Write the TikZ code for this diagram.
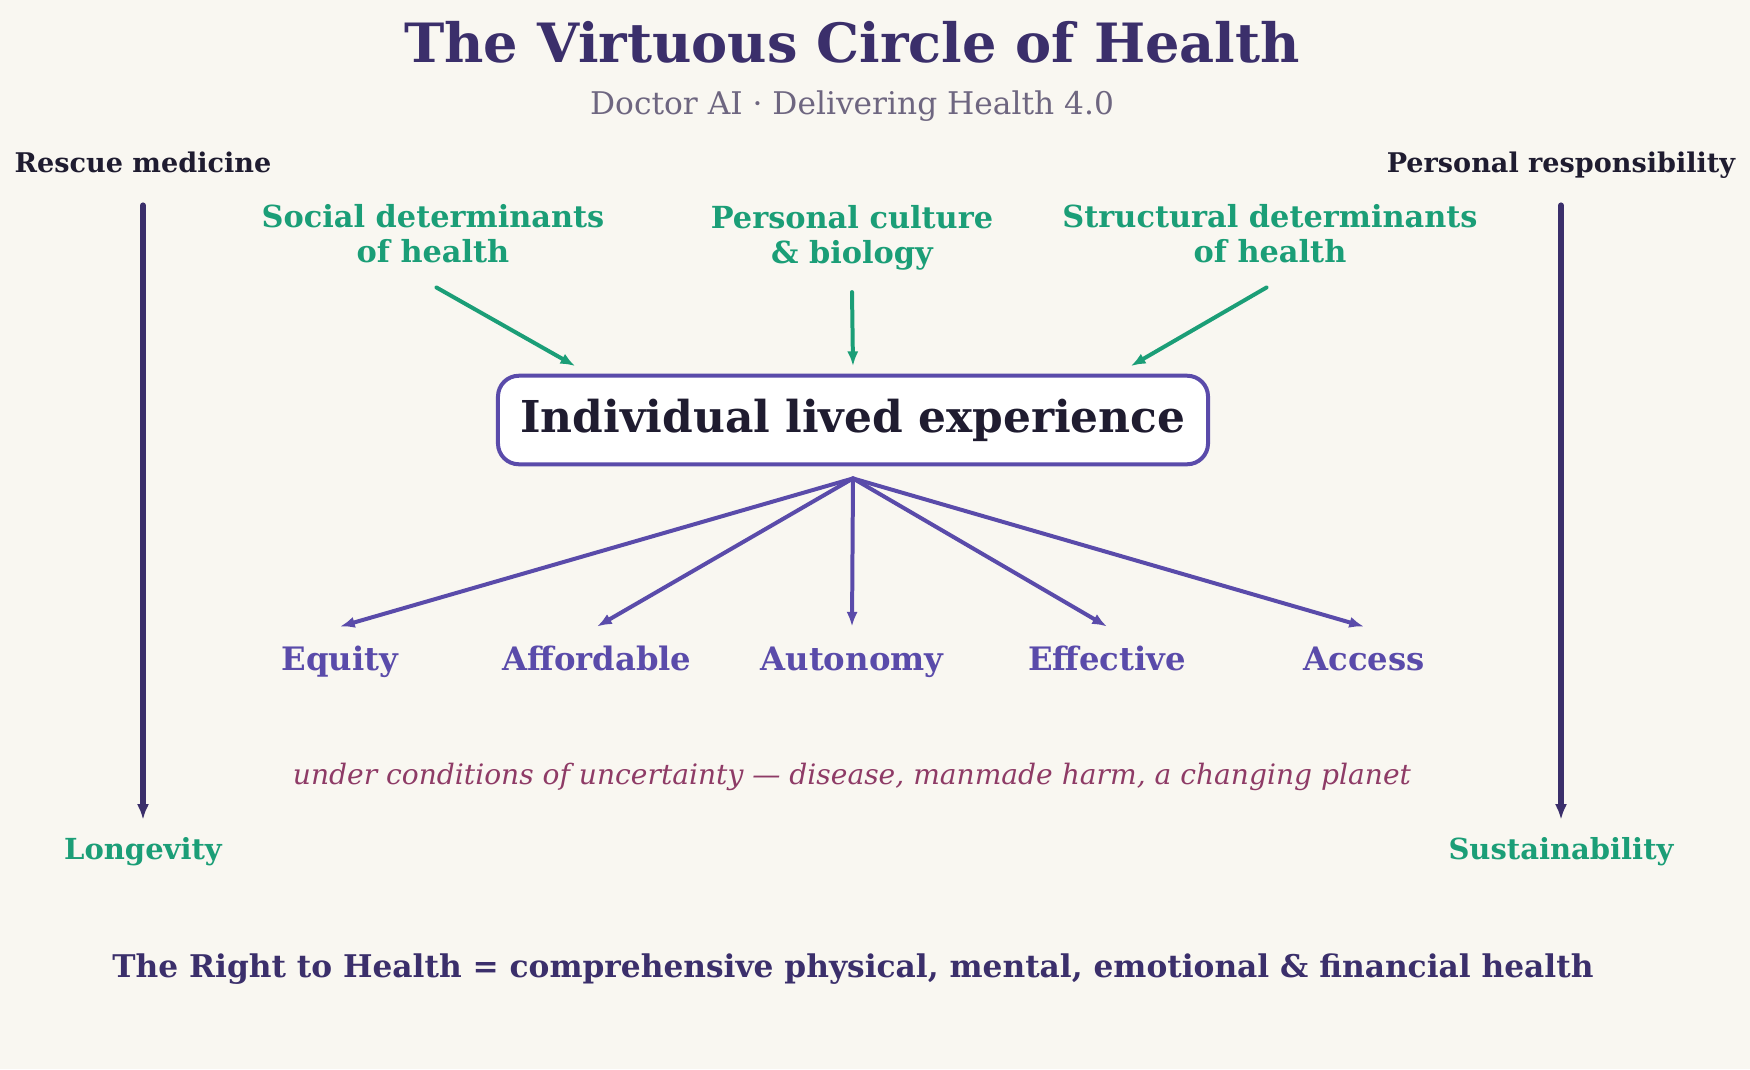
\documentclass[tikz,border=0pt]{standalone}
\usepackage{fontspec}
\setmainfont{DejaVu Serif}
\usetikzlibrary{arrows.meta}
\definecolor{bgcol}{HTML}{F9F7F1}
\definecolor{titlecol}{HTML}{3B2F6B}
\definecolor{subcol}{HTML}{6E6680}
\definecolor{inkcol}{HTML}{1F1C30}
\definecolor{greencol}{HTML}{1B9E77}
\definecolor{purplecol}{HTML}{5A4BAA}
\definecolor{maroon}{HTML}{8E3B66}
\begin{document}
\begin{tikzpicture}[
        x=0.576pt,y=-0.576pt,
        >={Latex[length=8.5pt,width=6.5pt]},line cap=round,line join=round,
        factor/.style={text=greencol,font=\bfseries\fontsize{17.5}{20}\selectfont,align=center},
        value/.style={text=purplecol,font=\bfseries\fontsize{18.6}{22}\selectfont,
            text height=0.8em,text depth=0.25em,anchor=base},
        side/.style={text=inkcol,font=\bfseries\fontsize{15.6}{18}\selectfont,
            text height=0.75em,text depth=0.25em},
        goal/.style={text=greencol,font=\bfseries\fontsize{16.7}{20}\selectfont,
            text height=0.75em,text depth=0.25em},
        feed/.style={draw=greencol,line width=2.3pt,->},
        branch/.style={draw=purplecol,line width=2.3pt,->},
        rail/.style={draw=titlecol,line width=3.4pt,->,>={Latex[length=9pt,width=7pt]},
            shorten <=13pt,shorten >=11.8pt}
    ]
    \fill[bgcol] (0,0) rectangle (1750,1069);
    \useasboundingbox (0,0) rectangle (1750,1069);
    \node[text=titlecol,font=\bfseries\fontsize{31.2}{36}\selectfont] (title) at (852,42) {The Virtuous Circle of Health};
    \node[text=subcol,font=\fontsize{18}{21}\selectfont] (subtitle) at (852,106) {Doctor AI · Delivering Health 4.0};
    \node[side] (rescue) at (143,168) {Rescue medicine};
    \node[side] (responsibility) at (1561,168) {Personal responsibility};
    \node[goal] (longevity) at (143,855) {Longevity};
    \node[goal] (sustainability) at (1561,855) {Sustainability};
    \draw[rail] (rescue.south) -- (longevity.north);
    \draw[rail] (responsibility.south) -- (sustainability.north);
    \node[factor] (social) at (433,234) {Social determinants\\of health};
    \node[factor] (culture) at (852,238) {Personal culture\\\& biology};
    \node[factor] (structural) at (1270,234) {Structural determinants\\of health};
    \node[draw=purplecol,fill=white,line width=2.3pt,rounded corners=12pt,
        minimum width=409pt,minimum height=51pt,text=inkcol,
        font=\bfseries\fontsize{25.3}{30}\selectfont] (lived) at (853,420) {Individual lived experience};
    \coordinate (hub) at ([yshift=-7pt]lived.south);
    \draw[feed] ([xshift=2pt,yshift=-10.5pt]social.south) -- ([xshift=-160pt,yshift=4.4pt]lived.north);
    \draw[feed] ([yshift=-9pt]culture.south) -- ([yshift=4.4pt]lived.north);
    \draw[feed] ([xshift=-2pt,yshift=-10.5pt]structural.south) -- ([xshift=160pt,yshift=4.4pt]lived.north);
    \node[value] (equity) at (340,670) {Equity};
    \node[value] (affordable) at (597,670) {Affordable};
    \node[value] (autonomy) at (852,670) {Autonomy};
    \node[value] (effective) at (1107,670) {Effective};
    \node[value] (access) at (1364,670) {Access};
    \foreach \v in {equity,affordable,autonomy,effective,access}
        \draw[branch] (hub) -- ([yshift=13.5pt]\v.north);
    \node[text=maroon,font=\itshape\fontsize{16.2}{19}\selectfont] (uncertainty) at (852,777) {under conditions of uncertainty — disease, manmade harm, a changing planet};
    \node[text=titlecol,font=\bfseries\fontsize{18}{21}\selectfont] (right) at (853,969) {The Right to Health = comprehensive physical, mental, emotional \& financial health};
\end{tikzpicture}
\end{document}
